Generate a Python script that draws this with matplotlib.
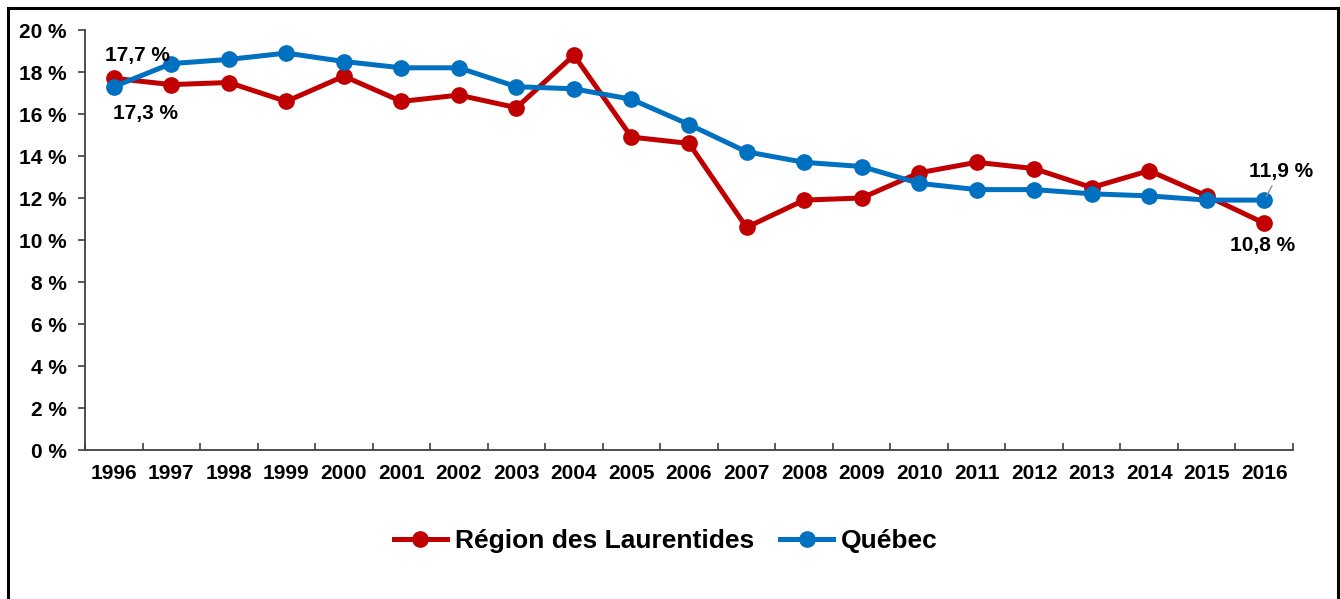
import matplotlib.pyplot as plt
import numpy as np
from matplotlib.patches import Rectangle

plt.rcParams['font.family'] = ['Liberation Sans', 'DejaVu Sans']
plt.rcParams['font.weight'] = 'bold'

years = [str(y) for y in range(1996, 2017)]
laurentides = [17.7, 17.4, 17.5, 16.6, 17.8, 16.6, 16.9, 16.3, 18.8, 14.9, 14.6,
               10.6, 11.9, 12.0, 13.2, 13.7, 13.4, 12.5, 13.3, 12.1, 10.8]
quebec = [17.3, 18.4, 18.6, 18.9, 18.5, 18.2, 18.2, 17.3, 17.2, 16.7, 15.5,
          14.2, 13.7, 13.5, 12.7, 12.4, 12.4, 12.2, 12.1, 11.9, 11.9]
y_ticks = [0, 2, 4, 6, 8, 10, 12, 14, 16, 18, 20]

RED = '#C00000'
BLUE = '#0070C0'

fig = plt.figure(figsize=(13.4, 5.99), dpi=100)
ax = fig.add_axes([85/1340, 1 - 450/599, (1293 - 85)/1340, 420/599])

x = np.arange(len(years))
ax.plot(x, laurentides, color=RED, lw=3.6, marker='o', ms=11, label='Région des Laurentides')
ax.plot(x, quebec, color=BLUE, lw=3.6, marker='o', ms=11, label='Québec')

ax.set_xlim(-0.5, len(years) - 0.5)
ax.set_ylim(0, 20)
ax.set_yticks(y_ticks)
ax.set_yticklabels(['{} %'.format(v) for v in y_ticks])
ax.set_xticks(x)
ax.set_xticklabels(years)
ax.set_xticks(np.arange(-0.5, len(years), 1), minor=True)

ax.tick_params(axis='x', which='major', length=0, pad=10, labelsize=15)
ax.tick_params(axis='x', which='minor', direction='in', length=5, width=1.2, color='#404040')
ax.tick_params(axis='y', direction='out', length=5, width=1.2, color='#404040', pad=8, labelsize=15)

for s in ['top', 'right']:
    ax.spines[s].set_visible(False)
for s in ['left', 'bottom']:
    ax.spines[s].set_color('#404040')
    ax.spines[s].set_linewidth(1.3)

# etiquettes de donnees
lab = dict(fontsize=15, fontweight='bold', ha='center', va='center', textcoords='offset pixels')
ax.annotate('17,7 %', (0, laurentides[0]), xytext=(24, 23), **lab)
ax.annotate('17,3 %', (0, quebec[0]), xytext=(32, -27), **lab)
ax.annotate('10,8 %', (20, laurentides[-1]), xytext=(-2, -22), **lab)
ax.annotate('11,9 %', (20, quebec[-1]), xytext=(17, 29),
            arrowprops=dict(arrowstyle='-', color='#8C8C8C', lw=1.0, relpos=(0.4, 0.0),
                            shrinkA=2, shrinkB=3), **lab)

fig.legend(loc='center', bbox_to_anchor=(0.497, 1 - 541/599), ncol=2, frameon=False,
           handlelength=2.0, columnspacing=1.0, handletextpad=0.3,
           prop={'weight': 'bold', 'size': 19})

fig.patches.append(Rectangle((8/1340, -0.05), 1330/1340, 0.05 + 1 - 8/599,
                             transform=fig.transFigure, fill=False, lw=2.2, ec='black'))

fig.savefig('out.png', dpi=100)
